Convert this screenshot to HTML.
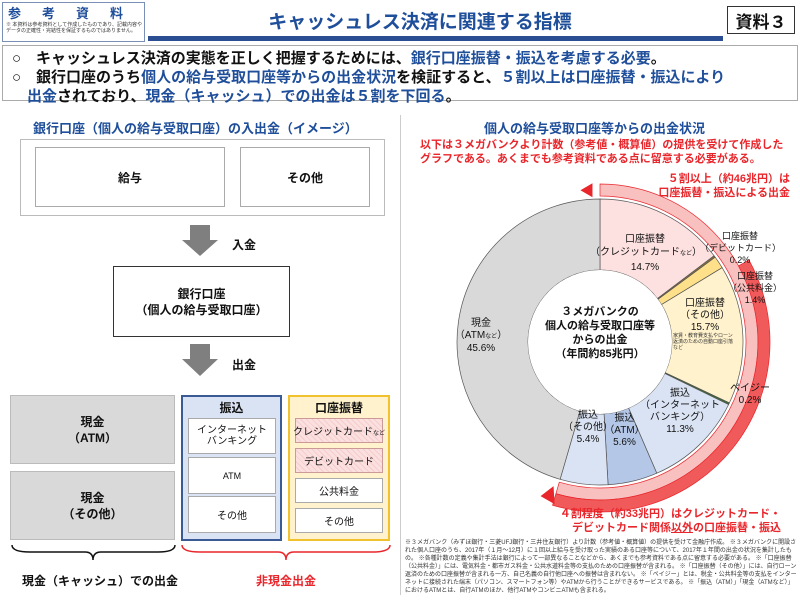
<!DOCTYPE html>
<html><head><meta charset="utf-8"><style>
*{margin:0;padding:0;box-sizing:border-box}
body{width:800px;height:600px;background:#fff;font-family:"Liberation Sans","Noto Sans CJK JP",sans-serif;position:relative;overflow:hidden;color:#111}
.a{position:absolute}
.c{display:flex;align-items:center;justify-content:center;text-align:center;white-space:nowrap}
.t{text-align:center;white-space:nowrap}
.b{font-weight:bold}
.blue{color:#1f4e9a}
.red{color:#e8262b}
.hatch{background:repeating-linear-gradient(45deg,#fbe0e0 0 3px,#f6cccc 3px 4px);border:1px solid #c99}
.wb{background:#fff;border:1px solid #aaa}
</style></head><body>
<!-- header -->
<div class="a" style="left:2px;top:2px;width:143px;height:40px;border:1px solid #7a8fb5"></div>
<div class="a b" style="left:8px;top:3px;font-size:13px;color:#1f4e9a;letter-spacing:21px">参考資料</div>
<div class="a" style="left:6px;top:22px;font-size:5px;line-height:6px;width:138px;color:#333">※ 本資料は参考資料として作成したものであり、記載内容やデータの正確性・完結性を保証するものではありません。</div>
<div class="a" style="left:148px;top:36px;width:575px;height:5px;background:#2b4d91"></div>
<div class="a b c blue" style="left:150px;top:6px;width:540px;height:28px;font-size:19px">キャッシュレス決済に関連する指標</div>
<div class="a c" style="left:727px;top:6px;width:68px;height:28px;border:1.5px solid #333;font-size:17px;font-weight:bold">資料３</div>
<div class="a" style="left:2px;top:45px;width:796px;height:56px;border:1.5px solid #aaa"></div>
<div class="a b" style="left:12px;top:49px;font-size:15px;line-height:19px;white-space:nowrap">○　キャッシュレス決済の実態を正しく把握するためには、<span class="blue">銀行口座振替・振込を考慮する必要</span>。<br>○　銀行口座のうち<span class="blue">個人の給与受取口座等からの出金状況</span>を検証すると、<span class="blue">５割以上は口座振替・振込により</span><br>　<span class="blue">出金</span>されており、<span class="blue">現金（キャッシュ）での出金は５割を下回る</span>。</div>
<!-- left -->
<div class="a b blue" style="left:33px;top:118px;font-size:13px">銀行口座（個人の給与受取口座）の入出金（イメージ）</div>
<div class="a" style="left:20px;top:139px;width:365px;height:77px;border:1px solid #bbb"></div>
<div class="a c wb b" style="left:35px;top:147px;width:190px;height:60px;font-size:12px">給与</div>
<div class="a c wb b" style="left:240px;top:147px;width:130px;height:60px;font-size:12px">その他</div>
<svg class="a" style="left:0;top:0" width="400" height="400">
<polygon points="190,225 210,225 210,240 218,240 200,256 182,240 190,240" fill="#7f7f7f"/>
<polygon points="190,344 210,344 210,359 218,359 200,376 182,359 190,359" fill="#7f7f7f"/>
</svg>
<div class="a b" style="left:232px;top:236px;font-size:12px">入金</div>
<div class="a b" style="left:232px;top:356px;font-size:12px">出金</div>
<div class="a c b" style="left:113px;top:266px;width:177px;height:71px;border:1px solid #333;font-size:12px;line-height:16px"><div>銀行口座<br>（個人の給与受取口座）</div></div>
<div class="a c b" style="left:10px;top:395px;width:165px;height:69px;background:#d9d9d9;border:1px solid #bbb;font-size:12px;line-height:16px"><div>現金<br>（ATM）</div></div>
<div class="a c b" style="left:10px;top:471px;width:165px;height:69px;background:#d9d9d9;border:1px solid #bbb;font-size:12px;line-height:16px"><div>現金<br>（その他）</div></div>
<div class="a" style="left:181px;top:395px;width:101px;height:146px;background:#dae3f3;border:2px solid #3a5a96"></div>
<div class="a b t" style="left:181px;top:399px;width:101px;font-size:12px">振込</div>
<div class="a c wb" style="left:188px;top:418px;width:88px;height:36px;font-size:10px;line-height:11px"><div>インターネット<br>バンキング</div></div>
<div class="a c wb" style="left:188px;top:457px;width:88px;height:37px;font-size:9px">ATM</div>
<div class="a c wb" style="left:188px;top:496px;width:88px;height:37px;font-size:10px">その他</div>
<div class="a" style="left:288px;top:395px;width:102px;height:146px;background:#fff2cc;border:2px solid #f2c12e"></div>
<div class="a b t" style="left:288px;top:399px;width:102px;font-size:12px">口座振替</div>
<div class="a c hatch" style="left:295px;top:418px;width:88px;height:25px;font-size:10px"><div>クレジットカード<span style="font-size:6px">など</span></div></div>
<div class="a c hatch" style="left:295px;top:448px;width:88px;height:25px;font-size:10px">デビットカード</div>
<div class="a c wb" style="left:295px;top:478px;width:88px;height:25px;font-size:10px">公共料金</div>
<div class="a c wb" style="left:295px;top:508px;width:88px;height:25px;font-size:10px">その他</div>
<svg class="a" style="left:0;top:540px" width="400" height="30">
<path d="M12,5 Q12,12 30,12 L85,12 Q93,12 93,20 Q93,12 101,12 L158,12 Q175,12 175,5" fill="none" stroke="#111" stroke-width="1.5"/>
<path d="M182,5 Q182,12 200,12 L278,12 Q286,12 286,20 Q286,12 294,12 L372,12 Q390,12 390,5" fill="none" stroke="#e8262b" stroke-width="1.5"/>
</svg>
<div class="a b" style="left:22px;top:572px;font-size:12px">現金（キャッシュ）での出金</div>
<div class="a b red" style="left:256px;top:572px;font-size:12px">非現金出金</div>
<div class="a" style="left:400px;top:115px;width:1px;height:480px;background:#ccc"></div>
<!-- right -->
<div class="a b blue" style="left:484px;top:118px;font-size:13px">個人の給与受取口座等からの出金状況</div>
<div class="a b red" style="left:420px;top:138px;font-size:11px;line-height:14px;white-space:nowrap">以下は３メガバンクより計数（参考値・概算値）の提供を受けて作成した<br>グラフである。あくまでも参考資料である点に留意する必要がある。</div>
<div class="a b red" style="left:600px;top:172px;font-size:11px;line-height:14px;text-align:right;width:190px;white-space:nowrap">５割以上（約46兆円）は<br>口座振替・振込による出金</div>
<svg id="d" class="a" style="left:0;top:0" width="800" height="600"></svg>
<div class="a b t" style="left:520px;top:305px;width:160px;font-size:11px;line-height:14px">３メガバンクの<br>個人の給与受取口座等<br>からの出金<br>（年間約85兆円）</div>
<div class="a t" style="left:590px;top:233px;width:110px;font-size:10px;line-height:13px">口座振替<br>（クレジットカード<span style="font-size:6px">など</span>）<br>14.7%</div>
<div class="a t" style="left:700px;top:230px;width:80px;font-size:9px;line-height:12px">口座振替<br>（デビットカード）<br>0.2%</div>
<div class="a t" style="left:728px;top:270px;width:54px;font-size:9px;line-height:12px">口座振替<br>（公共料金）<br>1.4%</div>
<div class="a t" style="left:670px;top:298px;width:70px;font-size:10px;line-height:12px">口座振替<br>（その他）<br>15.7%</div>
<div class="a" style="left:673px;top:333px;font-size:5px;line-height:6px;width:60px;color:#333">家賃・教育費支払やローン返済のための自動口座引落など</div>
<div class="a t" style="left:725px;top:383px;width:50px;font-size:10px;line-height:12px">ペイジー<br>0.2%</div>
<div class="a t" style="left:635px;top:388px;width:90px;font-size:10px;line-height:12px">振込<br>（インターネット<br>バンキング）<br>11.3%</div>
<div class="a t" style="left:602px;top:413px;width:45px;font-size:10px;line-height:12px">振込<br>（ATM）<br>5.6%</div>
<div class="a t" style="left:563px;top:410px;width:50px;font-size:10px;line-height:12px">振込<br>（その他）<br>5.4%</div>
<div class="a t" style="left:451px;top:318px;width:60px;font-size:10px;line-height:12px">現金<br>（ATM<span style="font-size:6px">など</span>）<br>45.6%</div>
<div class="a b red" style="left:540px;top:507px;font-size:11px;line-height:14px;text-align:right;width:241px;white-space:nowrap">４割程度（約33兆円）はクレジットカード・<br>デビットカード関係<u>以外</u>の口座振替・振込</div>
<div class="a" style="left:405px;top:539px;width:392px;font-size:6px;line-height:8px;color:#333">※３メガバンク（みずほ銀行・三菱UFJ銀行・三井住友銀行）より計数（参考値・概算値）の提供を受けて金融庁作成。 ※３メガバンクに開設された個人口座のうち、2017年（１月～12月）に１回以上給与を受け取った実績のある口座等について、2017年１年間の出金の状況を集計したもの。 ※各種計数の定義や集計手法は銀行によって一部異なることなどから、あくまでも参考資料である点に留意する必要がある。 ※「口座振替（公共料金）」には、電気料金・都市ガス料金・公共水道料金等の支払のための口座振替が含まれる。 ※「口座振替（その他）」には、自行ローン返済のための口座振替が含まれる一方、自己名義の自行他口座への振替は含まれない。 ※「ペイジー」とは、税金・公共料金等の支払をインターネットに接続された端末（パソコン、スマートフォン等）やATMから行うことができるサービスである。 ※「振込（ATM）」「現金（ATMなど）」におけるATMとは、自行ATMのほか、他行ATMやコンビニATMも含まれる。</div>
<script>
var cx=600,cy=342,R=143,r=72,s=document.getElementById('d'),h='';
function pt(rr,f){var a=f*2*Math.PI-Math.PI/2;return [cx+rr*Math.cos(a),cy+rr*Math.sin(a)];}
function arc(r1,r2,f1,f2,fill,st){var p1=pt(r2,f1),p2=pt(r2,f2),p3=pt(r1,f2),p4=pt(r1,f1),l=(f2-f1)>0.5?1:0;
return '<path d="M'+p1+' A'+r2+','+r2+' 0 '+l+' 1 '+p2+' L'+p3+' A'+r1+','+r1+' 0 '+l+' 0 '+p4+'Z" fill="'+fill+'" stroke="'+(st||'#555')+'" stroke-width="0.7"/>';}
var sl=[[14.7,'#fde0e0'],[0.2,'#8a6d3b'],[1.4,'#ffe08a'],[15.7,'#fff2cc'],[0.2,'#3d6b35'],[11.3,'#dae3f3'],[5.6,'#b4c7e7'],[5.4,'#dae3f3'],[45.5,'#d9d9d9']];
var f=0;
h+=arc(146,158,0.0,0.545,'#f9c0c0','#e8262b');
h+=arc(158,170,0.17,0.545,'#f15a5a','#e8262b');
var ah=pt(152,-0.01);h+='<polygon points="'+(ah[0]-10)+','+ah[1]+' '+(ah[0]+2)+','+(ah[1]-7)+' '+(ah[0]+2)+','+(ah[1]+7)+'" fill="#e8262b"/>';
var ab=pt(160,0.55);h+='<polygon points="'+(ab[0]-10)+','+(ab[1]+2)+' '+(ab[0]+3)+','+(ab[1]-8)+' '+(ab[0]+4)+','+(ab[1]+10)+'" fill="#e8262b"/>';
sl.forEach(function(q){h+=arc(r,R,f,f+q[0]/100,q[1]);f+=q[0]/100;});
h+='<circle cx="'+cx+'" cy="'+cy+'" r="'+r+'" fill="#fff"/>';
s.innerHTML=h;
</script>
</body></html>
